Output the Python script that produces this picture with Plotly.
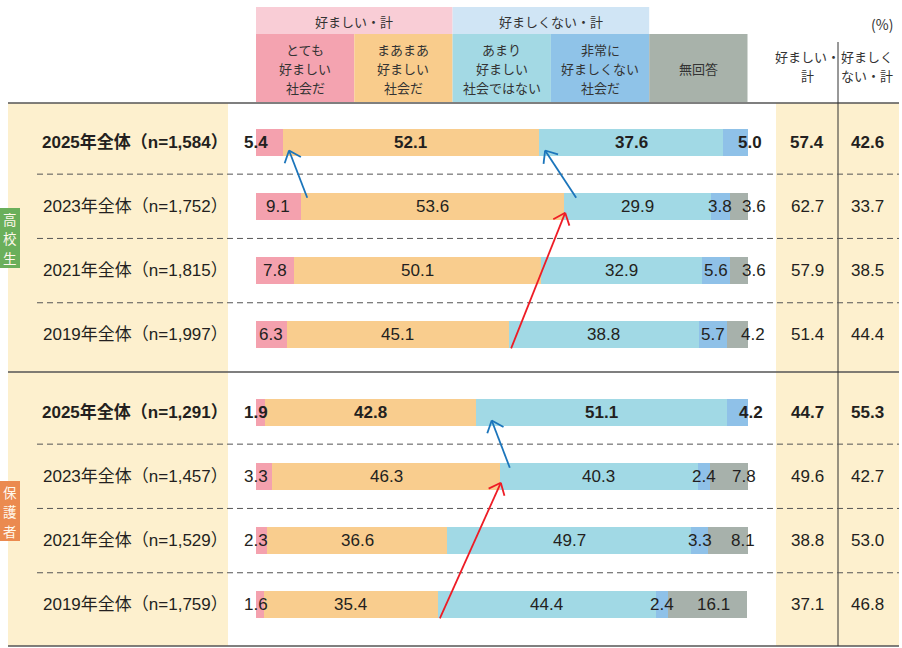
import math
import plotly.graph_objects as go

W, H = 902, 648

# ---------------- data ----------------
years = ["2025", "2023", "2021", "2019"]
hs_n = ["1,584", "1,752", "1,815", "1,997"]
pa_n = ["1,291", "1,457", "1,529", "1,759"]

categories = ["とても好ましい社会だ", "まあまあ好ましい社会だ", "あまり好ましい社会ではない",
              "非常に好ましくない社会だ", "無回答"]
header_lines = [["とても", "好ましい", "社会だ"], ["まあまあ", "好ましい", "社会だ"],
                ["あまり", "好ましい", "社会ではない"], ["非常に", "好ましくない", "社会だ"], ["無回答"]]

hs_very_good = [5.4, 9.1, 7.8, 6.3]
hs_good = [52.1, 53.6, 50.1, 45.1]
hs_not_good = [37.6, 29.9, 32.9, 38.8]
hs_very_bad = [5.0, 3.8, 5.6, 5.7]
hs_na = [None, 3.6, 3.6, 4.2]
hs_good_total = [57.4, 62.7, 57.9, 51.4]
hs_bad_total = [42.6, 33.7, 38.5, 44.4]

pa_very_good = [1.9, 3.3, 2.3, 1.6]
pa_good = [42.8, 46.3, 36.6, 35.4]
pa_not_good = [51.1, 40.3, 49.7, 44.4]
pa_very_bad = [4.2, 2.4, 3.3, 2.4]
pa_na = [None, 7.8, 8.1, 16.1]
pa_good_total = [44.7, 49.6, 38.8, 37.1]
pa_bad_total = [55.3, 42.7, 53.0, 46.8]

colors = ["#F4A1AE", "#F9CD8E", "#A1D9E5", "#8FC1E8", "#A7B1AB"]

# ---------------- layout geometry (pixels) ----------------
BAR_L, BAR_R = 256.0, 747.5
PPU = (BAR_R - BAR_L) / 100.0          # pixels per percent
X_MIN = -BAR_L / PPU
X_MAX = (W - BAR_L) / PPU
PITCH = 64.3
BAR_H = 27
hs_y = [142 + i * PITCH for i in range(4)]
pa_y = [412 + i * PITCH for i in range(4)]

TXT = "#231F20"
FONT = "Liberation Sans, Noto Sans CJK JP, sans-serif"
JFONT = "Noto Sans CJK JP, sans-serif"


def d2px(v):
    return BAR_L + v * PPU


def px2d(p):
    return (p - BAR_L) / PPU


def px(p):
    return p / W


fig = go.Figure()

groups = [
    (hs_y, [hs_very_good, hs_good, hs_not_good, hs_very_bad, hs_na], hs_n, hs_good_total, hs_bad_total),
    (pa_y, [pa_very_good, pa_good, pa_not_good, pa_very_bad, pa_na], pa_n, pa_good_total, pa_bad_total),
]

for yy, series, _, _, _ in groups:
    for k, s in enumerate(series):
        fig.add_trace(go.Bar(
            x=s, y=yy, orientation="h", width=BAR_H,
            marker=dict(color=colors[k], line=dict(width=0)),
            name=categories[k], showlegend=False, hoverinfo="skip",
        ))

shapes = []
ann = []


def text(xp, y, t, size=13, color="#333", family=JFONT, xanchor="center"):
    ann.append(dict(xref="paper", yref="y", x=px(xp), y=y, text=t, showarrow=False,
                    font=dict(family=family, size=size, color=color), xanchor=xanchor,
                    yanchor="middle"))


def lines_text(xp, yc, lines, size=13, pitch=19, color="#333"):
    n = len(lines)
    for j, ln in enumerate(lines):
        text(xp, yc + (j - (n - 1) / 2) * pitch, ln, size=size, color=color)


# backgrounds
shapes.append(dict(type="rect", xref="paper", yref="y", x0=px(8), x1=px(228), y0=103, y1=646,
                   fillcolor="#FDF0CE", line=dict(width=0), layer="below"))
shapes.append(dict(type="rect", xref="paper", yref="y", x0=px(776), x1=px(899), y0=103, y1=646,
                   fillcolor="#FDF0CE", line=dict(width=0), layer="below"))

# header boxes
hdr_top = [("好ましい・計", 0, 2, "#F9CDD6"), ("好ましくない・計", 2, 4, "#D0E5F5")]
for t, a, b, c in hdr_top:
    x0 = d2px(a * 20)
    x1 = d2px(b * 20)
    shapes.append(dict(type="rect", xref="paper", yref="y", x0=px(x0), x1=px(x1), y0=7, y1=34,
                       fillcolor=c, line=dict(width=0), layer="below"))
    text((x0 + x1) / 2, 21, t)
hdr_cols = ["#F4A3B0", "#F9CC8C", "#A3D9E4", "#8FC3E8", "#A8B2AA"]
for k in range(5):
    x0 = d2px(k * 20)
    x1 = d2px((k + 1) * 20)
    shapes.append(dict(type="rect", xref="paper", yref="y", x0=px(x0), x1=px(x1), y0=34, y1=102,
                       fillcolor=hdr_cols[k], line=dict(width=0), layer="below"))
    lines_text((x0 + x1) / 2, 68, header_lines[k])

text(882, 24, "(%)", size=14)
lines_text(807, 66, ["好ましい・", "計"])
lines_text(867, 66, ["好ましく", "ない・計"])

# lines
for yl in [103, 372, 646]:
    shapes.append(dict(type="line", xref="paper", yref="y", x0=px(8), x1=px(899), y0=yl, y1=yl,
                       line=dict(color="#555", width=1.5)))
shapes.append(dict(type="line", xref="paper", yref="y", x0=px(838), x1=px(838), y0=42, y1=646,
                   line=dict(color="#333", width=1)))
for yy in [hs_y, pa_y]:
    for i in range(3):
        ym = (yy[i] + yy[i + 1]) / 2
        shapes.append(dict(type="line", xref="paper", yref="y", x0=px(37), x1=px(899), y0=ym, y1=ym,
                           line=dict(color="#555", width=1, dash="6px,4px")))

# side tags
for (t, y0, y1, c) in [(["高", "校", "生"], 208, 268, "#6AAF5B"), (["保", "護", "者"], 481, 541, "#EB8A4F")]:
    shapes.append(dict(type="rect", xref="paper", yref="y", x0=0, x1=px(20), y0=y0, y1=y1,
                       fillcolor=c, line=dict(width=0)))
    lines_text(10, (y0 + y1) / 2, t, size=13.5, pitch=19.5, color="#FFF8EC")

# row labels, bar labels, totals
for gi, (yy, series, ns, gt, bt) in enumerate(groups):
    for i in range(4):
        bold = (i == 0)
        lab = f"{years[i]}年全体（n={ns[i]}）"
        if bold:
            lab = f"<b>{lab}</b>"
        text(230, yy[i], lab, size=17, color=TXT, family=FONT, xanchor="right")
        cum = 0.0
        for k in range(5):
            v = series[k][i]
            if v is None:
                continue
            c_px = d2px(cum + v / 2)
            if k == 0 and v < 6:
                c_px = 256
            elif k == 3 and series[4][i] is None:
                c_px += 14
            elif k == 4:
                c_px += 15 if v < 10 else 6
            t = f"{v:.1f}"
            if bold:
                t = f"<b>{t}</b>"
            ann.append(dict(xref="x", yref="y", x=px2d(c_px), y=yy[i], text=t, showarrow=False,
                            font=dict(family=FONT, size=17, color=TXT), xanchor="center",
                            yanchor="middle"))
            cum += v
        for xc, val in [(807, gt[i]), (867, bt[i])]:
            t = f"{val:.1f}"
            if bold:
                t = f"<b>{t}</b>"
            text(xc, yy[i], t, size=17, color=TXT, family=FONT)


def boundary(series, i, k):
    return sum(series[j][i] for j in range(k))


BLUE, RED = "#1B75BB", "#EE1C25"
arrow_specs = [
    # group, boundary index, tail row, head row, color, tail dx, head dx, tail dy, head dy
    (0, 1, 1, 0, BLUE, 6.5, 6.5, +5, -5),
    (0, 2, 1, 0, BLUE, 12, 6.5, +5, -5),
    (1, 2, 1, 0, BLUE, 10, 16, +5, -5),
    (0, 2, 3, 1, RED, 2.5, 1, 0, -7),
    (1, 2, 3, 1, RED, 2, 1, 0, -7),
]
HEAD_LEN, HEAD_ANG = 13.5, math.radians(40)
for g, k, rt, rh, col, dxt, dxh, dyt, dyh in arrow_specs:
    yy, series = groups[g][0], groups[g][1]
    if col == BLUE:
        yt = yy[rt] - BAR_H / 2 + dyt
    else:
        yt = yy[rt] + BAR_H / 2 + dyt
    yh = yy[rh] + BAR_H / 2 + dyh
    xt_px = d2px(boundary(series, rt, k)) + dxt
    xh_px = d2px(boundary(series, rh, k)) + dxh
    lw = 1.8
    shapes.append(dict(type="line", xref="x", yref="y", x0=px2d(xt_px), y0=yt,
                       x1=px2d(xh_px), y1=yh, line=dict(color=col, width=lw)))
    ux, uy = xt_px - xh_px, yt - yh
    L = math.hypot(ux, uy)
    ux, uy = ux / L, uy / L
    for s in (1, -1):
        a = s * HEAD_ANG
        rx = ux * math.cos(a) - uy * math.sin(a)
        ry = ux * math.sin(a) + uy * math.cos(a)
        shapes.append(dict(type="line", xref="x", yref="y", x0=px2d(xh_px), y0=yh,
                           x1=px2d(xh_px + HEAD_LEN * rx), y1=yh + HEAD_LEN * ry,
                           line=dict(color=col, width=lw)))

fig.update_layout(
    width=W, height=H, autosize=False,
    margin=dict(l=0, r=0, t=0, b=0, pad=0),
    paper_bgcolor="white", plot_bgcolor="white",
    barmode="stack", bargap=0,
    xaxis=dict(range=[X_MIN, X_MAX], visible=False, fixedrange=True),
    yaxis=dict(range=[H, 0], visible=False, fixedrange=True),
    shapes=shapes, annotations=ann, showlegend=False,
)

fig.write_html("out.html")
